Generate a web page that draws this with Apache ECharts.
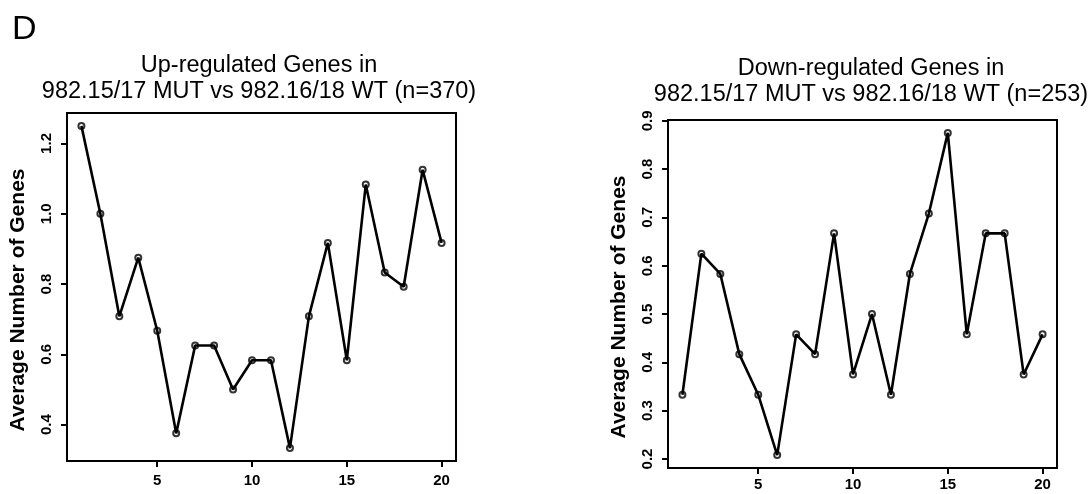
<!DOCTYPE html>
<html>
<head>
<meta charset="utf-8">
<script src="https://cdn.jsdelivr.net/npm/echarts@6/dist/echarts.min.js"></script>
<style>
  html, body { margin: 0; padding: 0; background: #fff; }
  #main { width: 1091px; height: 494px; }
</style>
</head>
<body>
<div id="main"></div>
<script>
// data (average number of genes per position)
const xValues = [1, 2, 3, 4, 5, 6, 7, 8, 9, 10, 11, 12, 13, 14, 15, 16, 17, 18, 19, 20];
const upValues = [1.25, 1.0, 0.708, 0.875, 0.667, 0.375, 0.625, 0.625, 0.5, 0.583,
  0.583, 0.333, 0.708, 0.917, 0.583, 1.083, 0.833, 0.792, 1.125, 0.917];
const downValues = [0.333, 0.625, 0.583, 0.417, 0.333, 0.208, 0.458, 0.417, 0.667, 0.375,
  0.5, 0.333, 0.583, 0.708, 0.875, 0.458, 0.667, 0.667, 0.375, 0.458];

const xTicks = [5, 10, 15, 20];
const upTicks = [0.4, 0.6, 0.8, 1.0, 1.2];
const downTicks = [0.2, 0.3, 0.4, 0.5, 0.6, 0.7, 0.8, 0.9];

const panelLabel = 'D';
const upTitle = ['Up-regulated Genes in', '982.15/17 MUT vs 982.16/18 WT (n=370)'];
const downTitle = ['Down-regulated Genes in', '982.15/17 MUT vs 982.16/18 WT (n=253)'];
const yName = 'Average Number of Genes';

const FONT = '"Liberation Sans", Arial, sans-serif';

// R style axis range: data range padded by 4% on each side
const padRange = (arr) => {
  const lo = Math.min(...arr);
  const hi = Math.max(...arr);
  const d = (hi - lo) * 0.04;
  return [lo - d, hi + d];
};

const xr = padRange(xValues);

const xAxisFor = (gridIndex, margin) => ({
  type: 'value',
  gridIndex,
  min: xr[0],
  max: xr[1],
  axisLine: { show: false, onZero: false },
  splitLine: { show: false },
  axisTick: { show: true, customValues: xTicks, length: 6, lineStyle: { color: '#000', width: 2 } },
  axisLabel: { customValues: xTicks, margin, color: '#000', fontFamily: FONT, fontWeight: 'bold', fontSize: 15 }
});

const yAxisFor = (gridIndex, values, ticks) => {
  const yr = padRange(values);
  return {
    type: 'value',
    gridIndex,
    min: yr[0],
    max: yr[1],
    name: yName,
    nameLocation: 'middle',
    nameGap: 38,
    nameTextStyle: { color: '#000', fontFamily: FONT, fontWeight: 'bold', fontSize: 21, padding: [0, 26, 0, 0] },
    axisLine: { show: false, onZero: false },
    splitLine: { show: false },
    axisTick: { show: true, customValues: ticks, length: 6, lineStyle: { color: '#000', width: 2 } },
    axisLabel: {
      customValues: ticks,
      rotate: 90,
      margin: 13,
      color: '#000',
      fontFamily: FONT,
      fontWeight: 'bold',
      fontSize: 15,
      formatter: (v) => v.toFixed(1)
    }
  };
};

// line + white gap + open circle, like R type="b"
const seriesFor = (idx, values) => {
  const pts = xValues.map((x, i) => [x, values[i]]);
  return [
    {
      type: 'line', xAxisIndex: idx, yAxisIndex: idx, data: pts,
      showSymbol: false, lineStyle: { color: '#000', width: 2.6 }, silent: true
    },
    {
      type: 'scatter', xAxisIndex: idx, yAxisIndex: idx, data: pts,
      symbol: 'circle', symbolSize: 12, itemStyle: { color: '#fff' }, silent: true
    },
    {
      type: 'scatter', xAxisIndex: idx, yAxisIndex: idx, data: pts,
      symbol: 'circle', symbolSize: 6,
      itemStyle: { color: '#fff', borderColor: '#000', borderWidth: 2 }, silent: true
    }
  ];
};

const titleStyle = { color: '#000', fontFamily: FONT, fontWeight: 'normal', fontSize: 23.5, lineHeight: 26 };

const option = {
  animation: false,
  backgroundColor: '#fff',
  title: [
    { text: panelLabel, left: 7, top: 8, textStyle: { color: '#000', fontFamily: FONT, fontWeight: 'normal', fontSize: 34 } },
    { text: upTitle.join('\n'), left: 254, top: 48, textAlign: 'center', textStyle: titleStyle },
    { text: downTitle.join('\n'), left: 866, top: 51, textAlign: 'center', textStyle: titleStyle }
  ],
  grid: [
    { left: 67, top: 113, width: 389, height: 348, show: true, borderColor: '#000', borderWidth: 2, backgroundColor: 'transparent' },
    { left: 668, top: 120, width: 389, height: 348, show: true, borderColor: '#000', borderWidth: 2, backgroundColor: 'transparent' }
  ],
  xAxis: [xAxisFor(0, 12), xAxisFor(1, 9)],
  yAxis: [yAxisFor(0, upValues, upTicks), yAxisFor(1, downValues, downTicks)],
  series: [...seriesFor(0, upValues), ...seriesFor(1, downValues)]
};

const myChart = echarts.init(document.getElementById('main'), null, { renderer: 'canvas' });
myChart.setOption(option);
</script>
</body>
</html>
